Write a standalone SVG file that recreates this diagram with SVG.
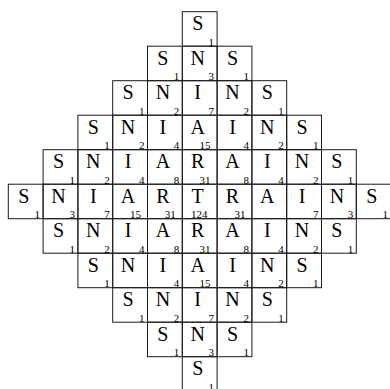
<svg xmlns="http://www.w3.org/2000/svg" width="390" height="389" viewBox="0 0 390 389">
<style>
rect{fill:none;stroke:#1a1a1a;stroke-width:1}
.L{font-family:"Liberation Serif",serif;font-size:20px;text-anchor:middle;fill:#000}
.n{font-family:"Liberation Serif",serif;font-size:11px;text-anchor:end;fill:#000}
</style>
<g id="r0c5" transform="translate(182.3,11.7)"><rect width="34.8" height="34.5"/><text class="L" x="15.4" y="18.5">S</text><text class="n" x="31.8" y="34">1</text></g>

<g id="r1c4" transform="translate(147.5,46.2)"><rect width="34.8" height="34.5"/><text class="L" x="15.4" y="18.5">S</text><text class="n" x="31.8" y="34">1</text></g>
<g id="r1c5" transform="translate(182.3,46.2)"><rect width="34.8" height="34.5"/><text class="L" x="15.4" y="18.5">N</text><text class="n" x="31.8" y="34">3</text></g>
<g id="r1c6" transform="translate(217.1,46.2)"><rect width="34.8" height="34.5"/><text class="L" x="15.4" y="18.5">S</text><text class="n" x="31.8" y="34">1</text></g>

<g id="r2c3" transform="translate(112.7,80.7)"><rect width="34.8" height="34.5"/><text class="L" x="15.4" y="18.5">S</text><text class="n" x="31.8" y="34">1</text></g>
<g id="r2c4" transform="translate(147.5,80.7)"><rect width="34.8" height="34.5"/><text class="L" x="15.4" y="18.5">N</text><text class="n" x="31.8" y="34">2</text></g>
<g id="r2c5" transform="translate(182.3,80.7)"><rect width="34.8" height="34.5"/><text class="L" x="15.4" y="18.5">I</text><text class="n" x="31.8" y="34">7</text></g>
<g id="r2c6" transform="translate(217.1,80.7)"><rect width="34.8" height="34.5"/><text class="L" x="15.4" y="18.5">N</text><text class="n" x="31.8" y="34">2</text></g>
<g id="r2c7" transform="translate(251.9,80.7)"><rect width="34.8" height="34.5"/><text class="L" x="15.4" y="18.5">S</text><text class="n" x="31.8" y="34">1</text></g>

<g id="r3c2" transform="translate(77.9,115.2)"><rect width="34.8" height="34.5"/><text class="L" x="15.4" y="18.5">S</text><text class="n" x="31.8" y="34">1</text></g>
<g id="r3c3" transform="translate(112.7,115.2)"><rect width="34.8" height="34.5"/><text class="L" x="15.4" y="18.5">N</text><text class="n" x="31.8" y="34">2</text></g>
<g id="r3c4" transform="translate(147.5,115.2)"><rect width="34.8" height="34.5"/><text class="L" x="15.4" y="18.5">I</text><text class="n" x="31.8" y="34">4</text></g>
<g id="r3c5" transform="translate(182.3,115.2)"><rect width="34.8" height="34.5"/><text class="L" x="15.4" y="18.5">A</text><text class="n" x="28.3" y="34">15</text></g>
<g id="r3c6" transform="translate(217.1,115.2)"><rect width="34.8" height="34.5"/><text class="L" x="15.4" y="18.5">I</text><text class="n" x="31.8" y="34">4</text></g>
<g id="r3c7" transform="translate(251.9,115.2)"><rect width="34.8" height="34.5"/><text class="L" x="15.4" y="18.5">N</text><text class="n" x="31.8" y="34">2</text></g>
<g id="r3c8" transform="translate(286.7,115.2)"><rect width="34.8" height="34.5"/><text class="L" x="15.4" y="18.5">S</text><text class="n" x="31.8" y="34">1</text></g>

<g id="r4c1" transform="translate(43.1,149.7)"><rect width="34.8" height="34.5"/><text class="L" x="15.4" y="18.5">S</text><text class="n" x="31.8" y="34">1</text></g>
<g id="r4c2" transform="translate(77.9,149.7)"><rect width="34.8" height="34.5"/><text class="L" x="15.4" y="18.5">N</text><text class="n" x="31.8" y="34">2</text></g>
<g id="r4c3" transform="translate(112.7,149.7)"><rect width="34.8" height="34.5"/><text class="L" x="15.4" y="18.5">I</text><text class="n" x="31.8" y="34">4</text></g>
<g id="r4c4" transform="translate(147.5,149.7)"><rect width="34.8" height="34.5"/><text class="L" x="15.4" y="18.5">A</text><text class="n" x="31.8" y="34">8</text></g>
<g id="r4c5" transform="translate(182.3,149.7)"><rect width="34.8" height="34.5"/><text class="L" x="15.4" y="18.5">R</text><text class="n" x="28.3" y="34">31</text></g>
<g id="r4c6" transform="translate(217.1,149.7)"><rect width="34.8" height="34.5"/><text class="L" x="15.4" y="18.5">A</text><text class="n" x="31.8" y="34">8</text></g>
<g id="r4c7" transform="translate(251.9,149.7)"><rect width="34.8" height="34.5"/><text class="L" x="15.4" y="18.5">I</text><text class="n" x="31.8" y="34">4</text></g>
<g id="r4c8" transform="translate(286.7,149.7)"><rect width="34.8" height="34.5"/><text class="L" x="15.4" y="18.5">N</text><text class="n" x="31.8" y="34">2</text></g>
<g id="r4c9" transform="translate(321.5,149.7)"><rect width="34.8" height="34.5"/><text class="L" x="15.4" y="18.5">S</text><text class="n" x="31.8" y="34">1</text></g>

<g id="r5c0" transform="translate(8.3,184.2)"><rect width="34.8" height="34.5"/><text class="L" x="15.4" y="18.5">S</text><text class="n" x="31.8" y="34">1</text></g>
<g id="r5c1" transform="translate(43.1,184.2)"><rect width="34.8" height="34.5"/><text class="L" x="15.4" y="18.5">N</text><text class="n" x="31.8" y="34">3</text></g>
<g id="r5c2" transform="translate(77.9,184.2)"><rect width="34.8" height="34.5"/><text class="L" x="15.4" y="18.5">I</text><text class="n" x="31.8" y="34">7</text></g>
<g id="r5c3" transform="translate(112.7,184.2)"><rect width="34.8" height="34.5"/><text class="L" x="15.4" y="18.5">A</text><text class="n" x="28.3" y="34">15</text></g>
<g id="r5c4" transform="translate(147.5,184.2)"><rect width="34.8" height="34.5"/><text class="L" x="15.4" y="18.5">R</text><text class="n" x="28.3" y="34">31</text></g>
<g id="r5c5" transform="translate(182.3,184.2)"><rect width="34.8" height="34.5"/><text class="L" x="15.4" y="18.5">T</text><text class="n" x="25.3" y="34">124</text></g>
<g id="r5c6" transform="translate(217.1,184.2)"><rect width="34.8" height="34.5"/><text class="L" x="15.4" y="18.5">R</text><text class="n" x="28.3" y="34">31</text></g>
<g id="r5c7" transform="translate(251.9,184.2)"><rect width="34.8" height="34.5"/><text class="L" x="15.4" y="18.5">A</text></g>
<g id="r5c8" transform="translate(286.7,184.2)"><rect width="34.8" height="34.5"/><text class="L" x="15.4" y="18.5">I</text><text class="n" x="31.8" y="34">7</text></g>
<g id="r5c9" transform="translate(321.5,184.2)"><rect width="34.8" height="34.5"/><text class="L" x="15.4" y="18.5">N</text><text class="n" x="31.8" y="34">3</text></g>
<g id="r5c10" transform="translate(356.3,184.2)"><rect width="34.8" height="34.5"/><text class="L" x="15.4" y="18.5">S</text><text class="n" x="31.8" y="34">1</text></g>

<g id="r6c1" transform="translate(43.1,218.7)"><rect width="34.8" height="34.5"/><text class="L" x="15.4" y="18.5">S</text><text class="n" x="31.8" y="34">1</text></g>
<g id="r6c2" transform="translate(77.9,218.7)"><rect width="34.8" height="34.5"/><text class="L" x="15.4" y="18.5">N</text><text class="n" x="31.8" y="34">2</text></g>
<g id="r6c3" transform="translate(112.7,218.7)"><rect width="34.8" height="34.5"/><text class="L" x="15.4" y="18.5">I</text><text class="n" x="31.8" y="34">4</text></g>
<g id="r6c4" transform="translate(147.5,218.7)"><rect width="34.8" height="34.5"/><text class="L" x="15.4" y="18.5">A</text><text class="n" x="31.8" y="34">8</text></g>
<g id="r6c5" transform="translate(182.3,218.7)"><rect width="34.8" height="34.5"/><text class="L" x="15.4" y="18.5">R</text><text class="n" x="28.3" y="34">31</text></g>
<g id="r6c6" transform="translate(217.1,218.7)"><rect width="34.8" height="34.5"/><text class="L" x="15.4" y="18.5">A</text><text class="n" x="31.8" y="34">8</text></g>
<g id="r6c7" transform="translate(251.9,218.7)"><rect width="34.8" height="34.5"/><text class="L" x="15.4" y="18.5">I</text><text class="n" x="31.8" y="34">4</text></g>
<g id="r6c8" transform="translate(286.7,218.7)"><rect width="34.8" height="34.5"/><text class="L" x="15.4" y="18.5">N</text><text class="n" x="31.8" y="34">2</text></g>
<g id="r6c9" transform="translate(321.5,218.7)"><rect width="34.8" height="34.5"/><text class="L" x="15.4" y="18.5">S</text><text class="n" x="31.8" y="34">1</text></g>

<g id="r7c2" transform="translate(77.9,253.2)"><rect width="34.8" height="34.5"/><text class="L" x="15.4" y="18.5">S</text><text class="n" x="31.8" y="34">1</text></g>
<g id="r7c3" transform="translate(112.7,253.2)"><rect width="34.8" height="34.5"/><text class="L" x="15.4" y="18.5">N</text></g>
<g id="r7c4" transform="translate(147.5,253.2)"><rect width="34.8" height="34.5"/><text class="L" x="15.4" y="18.5">I</text><text class="n" x="31.8" y="34">4</text></g>
<g id="r7c5" transform="translate(182.3,253.2)"><rect width="34.8" height="34.5"/><text class="L" x="15.4" y="18.5">A</text><text class="n" x="28.3" y="34">15</text></g>
<g id="r7c6" transform="translate(217.1,253.2)"><rect width="34.8" height="34.5"/><text class="L" x="15.4" y="18.5">I</text><text class="n" x="31.8" y="34">4</text></g>
<g id="r7c7" transform="translate(251.9,253.2)"><rect width="34.8" height="34.5"/><text class="L" x="15.4" y="18.5">N</text><text class="n" x="31.8" y="34">2</text></g>
<g id="r7c8" transform="translate(286.7,253.2)"><rect width="34.8" height="34.5"/><text class="L" x="15.4" y="18.5">S</text><text class="n" x="31.8" y="34">1</text></g>

<g id="r8c3" transform="translate(112.7,287.7)"><rect width="34.8" height="34.5"/><text class="L" x="15.4" y="18.5">S</text><text class="n" x="31.8" y="34">1</text></g>
<g id="r8c4" transform="translate(147.5,287.7)"><rect width="34.8" height="34.5"/><text class="L" x="15.4" y="18.5">N</text><text class="n" x="31.8" y="34">2</text></g>
<g id="r8c5" transform="translate(182.3,287.7)"><rect width="34.8" height="34.5"/><text class="L" x="15.4" y="18.5">I</text><text class="n" x="31.8" y="34">7</text></g>
<g id="r8c6" transform="translate(217.1,287.7)"><rect width="34.8" height="34.5"/><text class="L" x="15.4" y="18.5">N</text><text class="n" x="31.8" y="34">2</text></g>
<g id="r8c7" transform="translate(251.9,287.7)"><rect width="34.8" height="34.5"/><text class="L" x="15.4" y="18.5">S</text><text class="n" x="31.8" y="34">1</text></g>

<g id="r9c4" transform="translate(147.5,322.2)"><rect width="34.8" height="34.5"/><text class="L" x="15.4" y="18.5">S</text><text class="n" x="31.8" y="34">1</text></g>
<g id="r9c5" transform="translate(182.3,322.2)"><rect width="34.8" height="34.5"/><text class="L" x="15.4" y="18.5">N</text><text class="n" x="31.8" y="34">3</text></g>
<g id="r9c6" transform="translate(217.1,322.2)"><rect width="34.8" height="34.5"/><text class="L" x="15.4" y="18.5">S</text><text class="n" x="31.8" y="34">1</text></g>

<g id="r10c5" transform="translate(182.3,356.7)"><rect width="34.8" height="34.5"/><text class="L" x="15.4" y="18.5">S</text><text class="n" x="31.8" y="34">1</text></g>
</svg>
